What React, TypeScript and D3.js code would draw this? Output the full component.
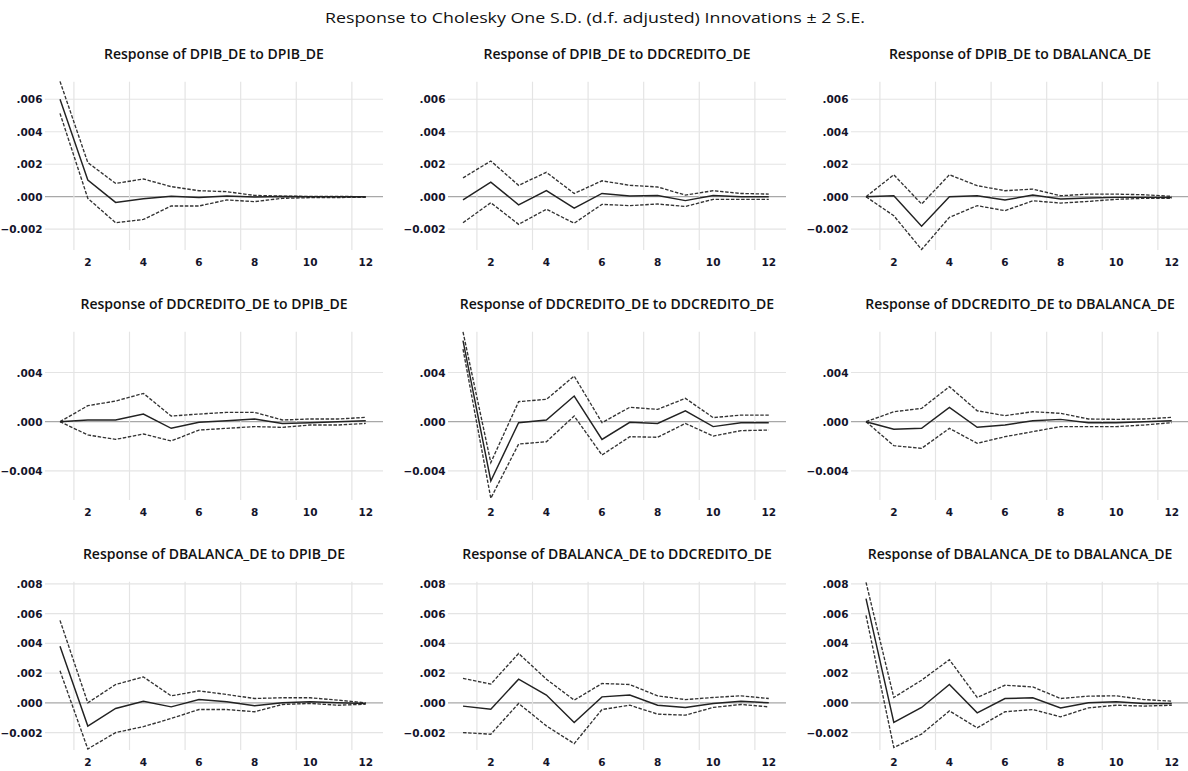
import React from "react";
import * as d3 from "d3";

// ---------- data ----------
const periods = [1, 2, 3, 4, 5, 6, 7, 8, 9, 10, 11, 12];
const xTickValues = [2, 4, 6, 8, 10, 12];
const xGridValues = [1.5, 3.5, 5.5, 7.5, 9.5, 11.5];
const xDomain = [0.46, 12.62];

const mainTitle = "Response to Cholesky One S.D. (d.f. adjusted) Innovations \u00b1 2 S.E.";
const variables = ["DPIB_DE", "DDCREDITO_DE", "DBALANCA_DE"];

const row1Ticks = [-0.002, 0, 0.002, 0.004, 0.006];
const row2Ticks = [-0.004, 0, 0.004];
const row3Ticks = [-0.002, 0, 0.002, 0.004, 0.006, 0.008];
const row1Domain = [-0.00328, 0.00708];
const row2Domain = [-0.00637, 0.00732];
const row3Domain = [-0.00317, 0.00814];

// Response of DPIB_DE
const dpib_dpib_resp = [0.006, 0.00103, -0.00035, -0.00012, 0.00003, -0.00005, 0.00005, -0.00002, 0.00001, 0.0, 0.0, 0.0];
const dpib_dpib_up = [0.0071, 0.0021, 0.00082, 0.00109, 0.00062, 0.00037, 0.00031, 0.00008, 0.00004, 0.00002, 0.00002, 0.0];
const dpib_dpib_lo = [0.00513, -0.0001, -0.0016, -0.0014, -0.00057, -0.00057, -0.0002, -0.0003, -0.0001, -0.00006, -0.00005, -0.00003];

const dpib_dcred_resp = [-0.0002, 0.0009, -0.0005, 0.00037, -0.0007, 0.0002, 0.00004, 0.00008, -0.00024, 0.00008, 0.0, 0.0];
const dpib_dcred_up = [0.00116, 0.0022, 0.0007, 0.0015, 0.0002, 0.00098, 0.0007, 0.0006, 0.0001, 0.00037, 0.0002, 0.00016];
const dpib_dcred_lo = [-0.0016, -0.00037, -0.0017, -0.00077, -0.00163, -0.00047, -0.00055, -0.00045, -0.0006, -0.00016, -0.00016, -0.00016];

const dpib_dbal_resp = [0.0, 0.00006, -0.00182, 0.0, 0.00006, -0.0002, 0.0001, -0.00014, -0.00008, -0.00004, -0.00004, -0.00005];
const dpib_dbal_up = [0.0, 0.00135, -0.00045, 0.00135, 0.00068, 0.00037, 0.00047, 0.00006, 0.00016, 0.00016, 0.00012, 0.00002];
const dpib_dbal_lo = [0.0, -0.00117, -0.00325, -0.00127, -0.00055, -0.00086, -0.00025, -0.00039, -0.00029, -0.00016, -0.0001, -0.0001];

// Response of DDCREDITO_DE
const dcred_dpib_resp = [0.0, 0.00014, 0.00014, 0.00062, -0.00054, -0.00005, 0.00008, 0.00022, -0.00014, -0.00008, 0.0, 0.00008];
const dcred_dpib_up = [0.0, 0.0013, 0.00168, 0.0023, 0.00046, 0.00062, 0.00076, 0.00076, 0.00014, 0.00022, 0.00022, 0.00035];
const dcred_dpib_lo = [0.0, -0.00108, -0.00144, -0.001, -0.00157, -0.00068, -0.00054, -0.0004, -0.00046, -0.00027, -0.00027, -0.00014];

const dcred_dcred_resp = [0.0066, -0.00482, -0.00008, 0.00014, 0.00209, -0.00144, -0.00005, -0.00014, 0.00089, -0.0004, -0.00008, -0.00008];
const dcred_dcred_up = [0.0073, -0.00333, 0.00163, 0.00182, 0.00371, -0.00008, 0.00117, 0.001, 0.0019, 0.00033, 0.00054, 0.00054];
const dcred_dcred_lo = [0.0059, -0.00623, -0.00182, -0.00163, 0.00046, -0.00271, -0.00122, -0.00127, -0.00014, -0.00117, -0.00073, -0.00068];

const dcred_dbal_resp = [0.0, -0.00062, -0.00054, 0.00117, -0.00046, -0.00027, 0.00008, 0.00019, -0.00008, -0.00008, 0.0, 0.00008];
const dcred_dbal_up = [0.0, 0.00081, 0.00108, 0.00285, 0.00089, 0.00049, 0.00081, 0.00068, 0.00022, 0.00019, 0.00022, 0.00035];
const dcred_dbal_lo = [0.0, -0.00195, -0.00217, -0.00054, -0.00176, -0.00122, -0.00081, -0.0004, -0.0004, -0.0004, -0.00027, -0.00008];

// Response of DBALANCA_DE
const dbal_dpib_resp = [0.0038, -0.00156, -0.00038, 0.00011, -0.00027, 0.00022, 0.00007, -0.0002, 0.0, 0.00007, 0.0, -0.00004];
const dbal_dpib_up = [0.00554, 0.0, 0.00123, 0.00174, 0.00047, 0.0008, 0.00056, 0.00029, 0.00034, 0.00034, 0.00018, 0.0];
const dbal_dpib_lo = [0.00215, -0.0031, -0.002, -0.0016, -0.00105, -0.00045, -0.00045, -0.0006, -0.00011, -0.00004, -0.00016, -0.00009];

const dbal_dcred_resp = [-0.00022, -0.00043, 0.00159, 0.00052, -0.00132, 0.0004, 0.00052, -0.00016, -0.00031, -0.00004, 0.00011, 0.0];
const dbal_dcred_up = [0.00164, 0.00126, 0.00332, 0.00159, 0.00018, 0.0013, 0.00123, 0.00047, 0.00022, 0.00036, 0.00047, 0.00029];
const dbal_dcred_lo = [-0.002, -0.00211, -0.00004, -0.00155, -0.00274, -0.00045, -0.00016, -0.00076, -0.00083, -0.00031, -0.00011, -0.00027];

const dbal_dbal_resp = [0.007, -0.00132, -0.00031, 0.00123, -0.00067, 0.00029, 0.00034, -0.00034, 0.0, 0.00007, -0.00004, -0.00004];
const dbal_dbal_up = [0.0081, 0.00036, 0.00152, 0.0029, 0.00036, 0.00118, 0.00107, 0.00029, 0.00045, 0.00047, 0.00022, 0.00011];
const dbal_dbal_lo = [0.00588, -0.003, -0.0021, -0.00054, -0.00168, -0.0006, -0.00045, -0.00094, -0.00034, -0.00016, -0.00022, -0.00016];

// ---------- assemble ----------
const rows = [
  { ticks: row1Ticks, domain: row1Domain, panels: [
    [dpib_dpib_resp, dpib_dpib_up, dpib_dpib_lo],
    [dpib_dcred_resp, dpib_dcred_up, dpib_dcred_lo],
    [dpib_dbal_resp, dpib_dbal_up, dpib_dbal_lo],
  ] },
  { ticks: row2Ticks, domain: row2Domain, panels: [
    [dcred_dpib_resp, dcred_dpib_up, dcred_dpib_lo],
    [dcred_dcred_resp, dcred_dcred_up, dcred_dcred_lo],
    [dcred_dbal_resp, dcred_dbal_up, dcred_dbal_lo],
  ] },
  { ticks: row3Ticks, domain: row3Domain, panels: [
    [dbal_dpib_resp, dbal_dpib_up, dbal_dpib_lo],
    [dbal_dcred_resp, dbal_dcred_up, dbal_dcred_lo],
    [dbal_dbal_resp, dbal_dbal_up, dbal_dbal_lo],
  ] },
];

const W = 1188;
const H = 771;
const PLOT_W = 338;
const PLOT_H = 168.3;
const COL_STEP = 403;
const ROW_STEP = 250;
const LEFT0 = 45;
const TOP0 = 81.7;

const fmtTick = (v: number) => {
  const s = d3.format(".3f")(v);
  return s.replace(/^(-?)0\./, "$1.");
};

function Panel({ r, c }: { r: number; c: number }) {
  const row = rows[r];
  const [resp, up, lo] = row.panels[c];
  const left = LEFT0 + c * COL_STEP;
  const top = TOP0 + r * ROW_STEP;
  const x = d3.scaleLinear().domain(xDomain).range([left, left + PLOT_W]);
  const y = d3.scaleLinear().domain(row.domain).range([top + PLOT_H, top]);
  const line = d3
    .line<number>()
    .x((_, i) => x(periods[i]))
    .y((d) => y(d));
  const title = `Response of ${variables[r]} to ${variables[c]}`;
  const tickFont = "'DejaVu Sans', sans-serif";
  return (
    <g>
      <text
        x={left + PLOT_W / 2}
        y={top - 28.5}
        textAnchor="middle"
        dominantBaseline="central"
        fontFamily="'Open Sans', sans-serif"
        fontSize={14}
        fontWeight={600}
        fill="#111"
      >
        {title}
      </text>
      {/* horizontal grid */}
      {row.ticks.map((t) => (
        <line
          key={"h" + t}
          x1={left}
          x2={left + PLOT_W}
          y1={y(t)}
          y2={y(t)}
          stroke={t === 0 ? "#a8a8a8" : "#e4e4e4"}
          strokeWidth={1.2}
        />
      ))}
      {/* vertical grid */}
      {xGridValues.map((g) => (
        <line
          key={"v" + g}
          x1={x(g)}
          x2={x(g)}
          y1={top}
          y2={top + PLOT_H}
          stroke="#e4e4e4"
          strokeWidth={1.2}
        />
      ))}
      {/* y tick labels */}
      {row.ticks.map((t) => (
        <text
          key={"yl" + t}
          x={left - 2.5}
          y={y(t)}
          textAnchor="end"
          dominantBaseline="central"
          fontFamily={tickFont}
          fontWeight="bold"
          fontSize={10.5}
          fill="#14142a"
        >
          {fmtTick(t)}
        </text>
      ))}
      {/* x tick labels */}
      {xTickValues.map((t) => (
        <text
          key={"xl" + t}
          x={x(t)}
          y={top + PLOT_H + 12.3}
          textAnchor="middle"
          dominantBaseline="central"
          fontFamily={tickFont}
          fontWeight="bold"
          fontSize={10.5}
          fill="#14142a"
        >
          {t}
        </text>
      ))}
      <path d={line(up) || ""} fill="none" stroke="#333" strokeWidth={1.35} strokeDasharray="3.5,1.6" />
      <path d={line(lo) || ""} fill="none" stroke="#333" strokeWidth={1.35} strokeDasharray="3.5,1.6" />
      <path d={line(resp) || ""} fill="none" stroke="#222" strokeWidth={1.45} />
    </g>
  );
}

export default function App() {
  return (
    <svg
      width={W}
      height={H}
      viewBox={`0 0 ${W} ${H}`}
      style={{ position: "absolute", left: 0, top: 0, background: "#fff" }}
    >
      <rect x={0} y={0} width={W} height={H} fill="#fff" />
      <text
        x={595}
        y={17}
        textAnchor="middle"
        dominantBaseline="central"
        fontFamily="'Open Sans', sans-serif"
        fontSize={15}
        textLength={540}
        lengthAdjust="spacingAndGlyphs"
        fill="#111"
      >
        {mainTitle}
      </text>
      {rows.map((_, r) =>
        variables.map((__, c) => <Panel key={`${r}-${c}`} r={r} c={c} />)
      )}
    </svg>
  );
}
